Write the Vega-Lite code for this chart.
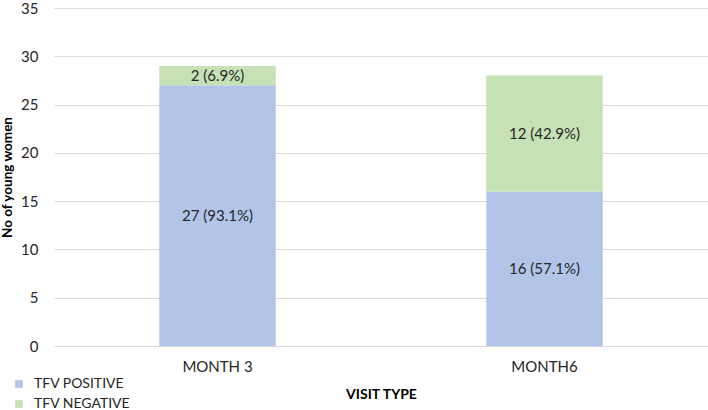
{
  "$schema": "https://vega.github.io/schema/vega-lite/v6.json",
  "autosize": "none",
  "width": 654,
  "height": 338,
  "padding": {"left": 54, "top": 8, "right": 0, "bottom": 64},
  "background": "white",
  "config": {
    "font": "Lato",
    "view": {"stroke": null},
    "axis": {"labelFont": "Lato", "titleFont": "Lato", "labelColor": "#262626", "titleColor": "#000000"}
  },
  "data": {
    "values": [
      {"visit": "MONTH 3", "status": "TFV POSITIVE", "count": 27, "label": "27 (93.1%)"},
      {"visit": "MONTH 3", "status": "TFV NEGATIVE", "count": 2, "label": "2 (6.9%)"},
      {"visit": "MONTH6", "status": "TFV POSITIVE", "count": 16, "label": "16 (57.1%)"},
      {"visit": "MONTH6", "status": "TFV NEGATIVE", "count": 12, "label": "12 (42.9%)"}
    ]
  },
  "encoding": {
    "x": {
      "field": "visit",
      "type": "nominal",
      "title": "VISIT TYPE",
      "scale": {"paddingInner": 0.644, "paddingOuter": 0.322},
      "axis": {
        "labelAngle": 0,
        "labelFontSize": 15,
        "labelPadding": 13,
        "ticks": false,
        "domain": false,
        "titleFontSize": 14,
        "titleFontWeight": "bold",
        "titlePadding": 13
      }
    }
  },
  "layer": [
    {
      "mark": {"type": "bar"},
      "encoding": {
        "y": {
          "field": "count",
          "type": "quantitative",
          "stack": "zero",
          "title": "No of young women",
          "scale": {"domain": [0, 35]},
          "axis": {
            "values": [0, 5, 10, 15, 20, 25, 30, 35],
            "labelFontSize": 15,
            "labelPadding": 16,
            "ticks": false,
            "domain": false,
            "gridColor": "#d9d9d9",
            "gridWidth": 1.2,
            "titleFontSize": 13.5,
            "titleFontWeight": "bold",
            "titlePadding": 6
          }
        },
        "order": {"field": "status", "sort": "descending"},
        "color": {
          "field": "status",
          "type": "nominal",
          "scale": {
            "domain": ["TFV POSITIVE", "TFV NEGATIVE"],
            "range": ["#b2c4e8", "#c6e1b5"]
          },
          "legend": {
            "title": null,
            "orient": "none",
            "legendX": -42,
            "legendY": 369,
            "symbolType": "square",
            "symbolSize": 60,
            "symbolStrokeWidth": 0,
            "labelFontSize": 14,
            "labelColor": "#262626",
            "labelOffset": 8,
            "rowPadding": 6
          }
        }
      }
    },
    {
      "mark": {"type": "text", "fontSize": 15, "color": "#262626"},
      "encoding": {
        "y": {"field": "count", "type": "quantitative", "stack": "zero", "bandPosition": 0.5},
        "order": {"field": "status", "sort": "descending"},
        "detail": {"field": "status"},
        "text": {"field": "label"}
      }
    }
  ]
}
